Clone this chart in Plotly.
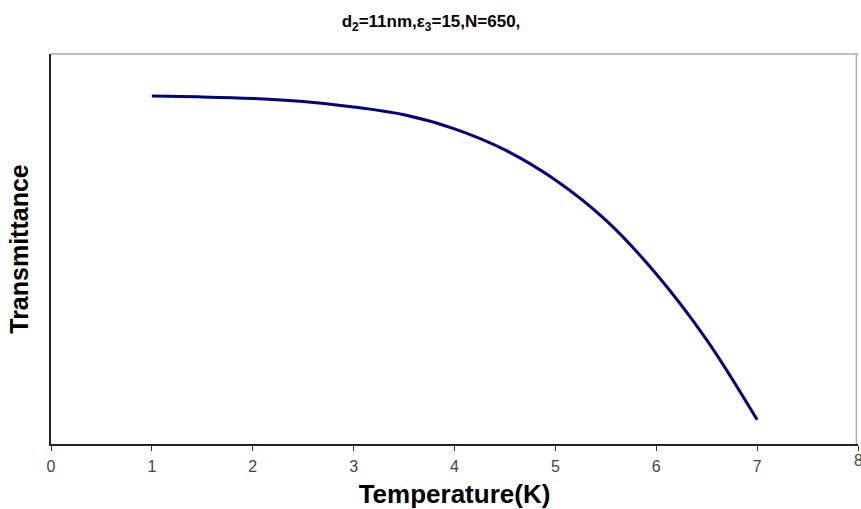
import plotly.graph_objects as go

temperature = [1.0, 1.5, 2.0, 2.5, 3.0, 3.5, 4.0, 4.5, 5.0, 5.5, 6.0, 6.5, 7.0]
transmittance = [0.892, 0.890, 0.886, 0.878, 0.864, 0.844, 0.808, 0.754, 0.677, 0.574,
                 0.436, 0.267, 0.062]
x_ticks = [0, 1, 2, 3, 4, 5, 6, 7, 8]
x_tick_labels = [str(v) for v in x_ticks]

tick_font = dict(family="Liberation Sans Narrow, Arial Narrow, Liberation Sans, sans-serif",
                 size=16, color="#444")

fig = go.Figure()
fig.add_trace(go.Scatter(
    x=temperature, y=transmittance, mode="lines",
    line=dict(color="#000080", width=3, shape="spline", smoothing=1.0),
    showlegend=False, hoverinfo="skip",
))

W, H = 861, 509
fig.update_layout(
    width=W, height=H,
    margin=dict(l=51, r=3, t=54, b=65, autoexpand=False),
    paper_bgcolor="white", plot_bgcolor="white",
    title=dict(
        text="<b>d<sub>2</sub>=11nm,ε<sub>3</sub>=15,N=650,</b>",
        x=431 / W, xanchor="center", xref="container", y=1 - 21 / H, yanchor="middle",
        font=dict(family="Liberation Sans, Arial, sans-serif", size=17, color="black"),
    ),
    xaxis=dict(
        range=[0, 8], tickvals=x_ticks, ticktext=x_tick_labels[:-1] + [""],
        ticks="outside", ticklen=5, tickwidth=1,
        tickcolor="#333", showline=True, linecolor="#222", linewidth=1.5,
        showgrid=False, zeroline=False, ticklabelstandoff=2,
        automargin=False, tickfont=tick_font,
        title=dict(text="<b>Temperature(K)</b>", standoff=12,
                   font=dict(family="Liberation Sans, Arial, sans-serif", size=26, color="black")),
    ),
    yaxis=dict(
        range=[0, 1], showticklabels=False, ticks="", showline=True, automargin=False,
        linecolor="#222", linewidth=1.5, showgrid=False, zeroline=False,
        title=dict(text="<b>Transmittance</b>", standoff=14,
                   font=dict(family="Liberation Sans, Arial, sans-serif", size=25, color="black")),
    ),
    shapes=[
        dict(type="line", xref="paper", yref="paper", x0=0, x1=1, y0=1, y1=1,
             line=dict(color="#aaaaaa", width=1.5)),
        dict(type="line", xref="paper", yref="paper", x0=0.998, x1=0.998, y0=0, y1=1,
             line=dict(color="#aaaaaa", width=1.5)),
    ],
    annotations=[
        dict(text=x_tick_labels[-1], x=x_ticks[-1], xref="x", y=0, yref="paper",
             xanchor="center", yanchor="top", yshift=-6, showarrow=False, font=tick_font),
    ],
)

fig.write_html(
    "out.html",
    config={"displayModeBar": False},
    post_script="document.body.style.margin='0';document.body.style.overflow='hidden';",
)
